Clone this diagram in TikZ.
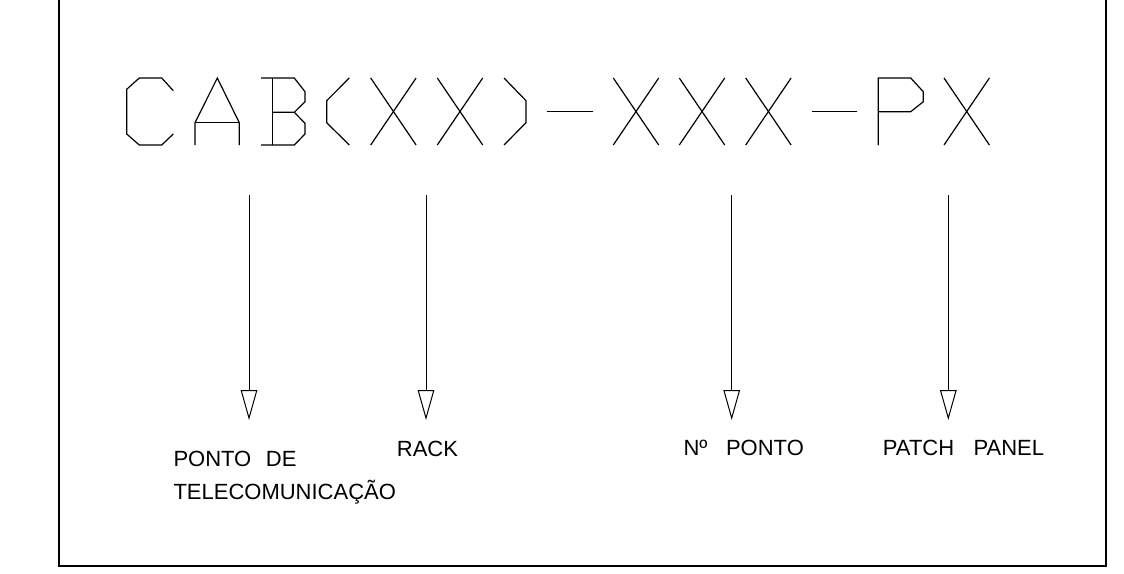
\documentclass[tikz,border=0pt]{standalone}
\usepackage{fontspec}
\setmainfont{Liberation Sans}
\usetikzlibrary{arrows.meta}
\begin{document}
\begin{tikzpicture}[x=1pt,y=-1pt,
  glyph/.style={line width=1.2pt, line join=miter},
  frameline/.style={line width=1.6pt},
  pointer/.style={line width=1pt, -{Triangle[open, length=30pt, width=16.6pt]}},
  lbl/.style={anchor=base west, inner sep=0pt, font=\fontsize{22}{26}\selectfont}]
\useasboundingbox (0,0) rectangle (1124,573);
% frame (open at top)
\draw[frameline] (59,0) -- (59,566) -- (1106,566) -- (1106,0);
% title CAB(XX)-XXX-PX drawn as stroke letters
% C
\draw[glyph] (173.3,90.7) -- (161.7,78) -- (139.3,78) -- (126.7,89.3) -- (126.7,134) -- (139.3,145) -- (161.7,145) -- (173.3,134);
% A
\draw[glyph] (195,145) -- (195,122.7) -- (217.3,78) -- (239.3,122.7) -- (239.3,145);
\draw[glyph] (195,122.7) -- (239.3,122.7);
% B
\draw[glyph] (272.3,78) -- (272.3,145);
\draw[glyph] (261,78) -- (294.3,78) -- (305,91.7) -- (305,101.7) -- (294.3,112.3) -- (272.3,112.3);
\draw[glyph] (294.3,112.3) -- (305,123.3) -- (305,134) -- (294.3,145) -- (261,145);
% (
\draw[glyph] (349.3,78) -- (326.7,100.7) -- (326.7,122.7) -- (349.3,145);
% X X
\foreach \l in {370.7,437.3,613.3,679.3,745.7,944}{
  \draw[glyph] (\l,78) -- (\l+45.4,145);
  \draw[glyph] (\l+45.4,78) -- (\l,145);
}
% )
\draw[glyph] (504,78) -- (526,100.7) -- (526,122.7) -- (504,145);
% dashes
\draw[glyph] (546.7,111.7) -- (592.5,111.7);
\draw[glyph] (812.3,111.7) -- (856.7,111.7);
% P
\draw[glyph] (878.3,145) -- (878.3,78) -- (910.7,78) -- (923.3,91.7) -- (923.3,101.7) -- (910.7,111.7) -- (878.3,111.7);
% arrow coordinates
\coordinate (s1) at (249,195);   \coordinate (t1) at (249,420);
\coordinate (s2) at (426,195);   \coordinate (t2) at (426,420);
\coordinate (s3) at (731.7,195); \coordinate (t3) at (731.7,420);
\coordinate (s4) at (948.3,195); \coordinate (t4) at (948.3,420);
\draw[pointer] (s1) -- (t1);
\draw[pointer] (s2) -- (t2);
\draw[pointer] (s3) -- (t3);
\draw[pointer] (s4) -- (t4);
% labels
\node[lbl] (ponto) at (173.3,466.7) {PONTO\hspace{14.6pt}DE};
\node[lbl] (tele) at (173.3,499.3) {TELECOMUNICAÇÃO};
\node[lbl] (rack) at (396.7,456) {RACK};
\node[lbl] (npto) at (683.3,455) {Nº\hspace{18.6pt}PONTO};
\node[lbl] (patch) at (882.7,455) {PATCH\hspace{19.4pt}PANEL};
\end{tikzpicture}
\end{document}
